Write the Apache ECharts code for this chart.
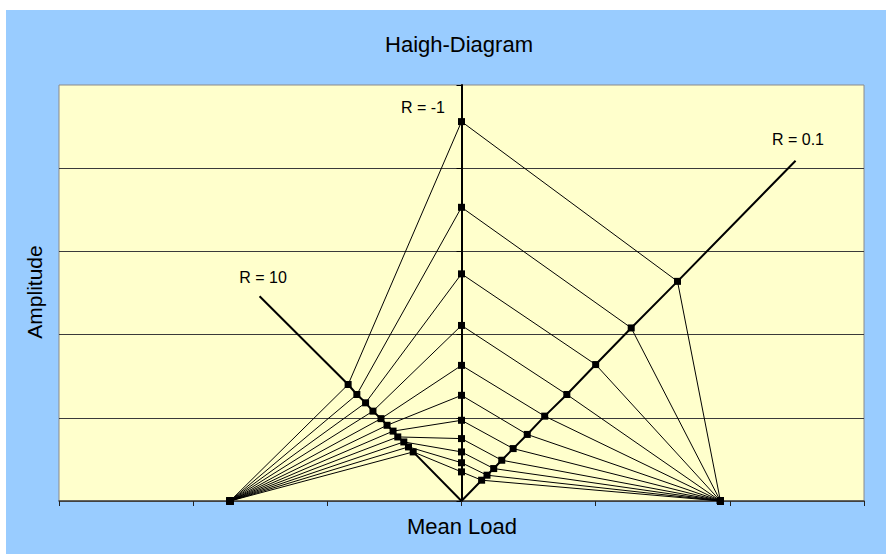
<!DOCTYPE html>
<html>
<head>
<meta charset="utf-8">
<title>Haigh-Diagram</title>
<script src="https://cdn.jsdelivr.net/npm/echarts@6.0.0/dist/echarts.min.js"></script>
<style>
  html, body { margin: 0; padding: 0; background: #fff; }
  #chart { width: 886px; height: 554px; }
</style>
</head>
<body>
<div id="chart"></div>
<script>
// amplitude of the R = -1 points (mean load 0), top to bottom
const rm1Amp = [456, 353, 273, 211, 163, 127, 97, 75, 59, 46, 35]
// R = 0.1 points
const r01Mean = [322, 253, 200, 157, 124, 98, 77, 60, 48, 38, 30]
const r01Amp = [264, 208, 164, 128, 102, 80, 63, 49, 39, 31, 25]
// R = 10 points
const r10Mean = [-169, -156, -143, -132, -120, -111, -102, -95, -86, -79, -72]
const r10Amp = [140, 128, 118, 108, 99, 91, 84, 77, 71, 65, 59]
// limits on the mean load axis
const compLimit = -345
const tensLimit = 386
// end points of the R lines
const r10End = [-301, 246]
const r01End = [498, 409]

const xTicks = [-600, -400, -200, 0, 200, 400, 600]
const yTicks = [0, 100, 200, 300, 400, 500]

const font = "'Liberation Sans', Arial, sans-serif"
const myChart = echarts.init(document.getElementById('chart'), null, { renderer: 'svg' })

const series = []
// R = 10 line
const r10Data = [[0, 0]]
for (let i = r10Mean.length - 1; i >= 0; i--) r10Data.push([r10Mean[i], r10Amp[i]])
r10Data.push(r10End)
series.push({
  type: 'line', data: r10Data, symbol: 'none', z: 2,
  lineStyle: { color: '#000', width: 2 }
})
// R = 0.1 line
const r01Data = [[0, 0]]
for (let i = r01Mean.length - 1; i >= 0; i--) r01Data.push([r01Mean[i], r01Amp[i]])
r01Data.push(r01End)
series.push({
  type: 'line', data: r01Data, symbol: 'none', z: 2,
  lineStyle: { color: '#000', width: 2 }
})
// constant life lines
for (let i = 0; i < rm1Amp.length; i++) {
  series.push({
    type: 'line',
    z: 3,
    data: [
      [compLimit, 0],
      [r10Mean[i], r10Amp[i]],
      [0, rm1Amp[i]],
      [r01Mean[i], r01Amp[i]],
      [tensLimit, 0]
    ],
    symbol: 'rect',
    symbolSize: 7,
    showAllSymbol: true,
    itemStyle: { color: '#000' },
    lineStyle: { color: '#000', width: 1 }
  })
}

myChart.setOption({
  animation: false,
  backgroundColor: '#fff',
  grid: {
    left: 59, right: 22, top: 85, bottom: 53,
    show: true, backgroundColor: '#FFFFCC', borderColor: '#8a8a8a', borderWidth: 1
  },
  xAxis: {
    type: 'value', min: xTicks[0], max: xTicks[xTicks.length - 1], interval: 200,
    axisLine: { onZero: false, lineStyle: { color: '#444', width: 1.5 } },
    axisTick: { show: true, length: 5, lineStyle: { color: '#222' } },
    axisLabel: { show: false },
    splitLine: { show: false }
  },
  yAxis: {
    type: 'value', min: yTicks[0], max: yTicks[yTicks.length - 1], interval: 100,
    axisLine: { show: true, onZero: true, lineStyle: { color: '#000', width: 2 } },
    axisTick: { show: true, length: 5, lineStyle: { color: '#000' } },
    axisLabel: { show: false },
    splitLine: { show: true, showMaxLine: false, lineStyle: { color: '#3a3a3a', width: 1 } }
  },
  graphic: [
    { type: 'rect', z: -10, shape: { x: 6, y: 10, width: 880, height: 544 }, style: { fill: '#99CCFF' } },
    { type: 'text', x: 459, y: 44, style: { text: 'Haigh-Diagram', font: '22px ' + font, fill: '#000', align: 'center', verticalAlign: 'middle' } },
    { type: 'text', x: 462, y: 526, style: { text: 'Mean Load', font: '22px ' + font, fill: '#000', align: 'center', verticalAlign: 'middle' } },
    { type: 'text', x: 34, y: 292, rotation: Math.PI / 2, style: { text: 'Amplitude', font: '21px ' + font, fill: '#000', align: 'center', verticalAlign: 'middle' } },
    { type: 'text', x: 423, y: 107, z: 10, style: { text: 'R = -1', font: '16px ' + font, fill: '#000', align: 'center', verticalAlign: 'middle' } },
    { type: 'text', x: 263, y: 277, z: 10, style: { text: 'R = 10', font: '16px ' + font, fill: '#000', align: 'center', verticalAlign: 'middle' } },
    { type: 'text', x: 798, y: 139, z: 10, style: { text: 'R = 0.1', font: '16px ' + font, fill: '#000', align: 'center', verticalAlign: 'middle' } }
  ],
  series: series
})
</script>
</body>
</html>
